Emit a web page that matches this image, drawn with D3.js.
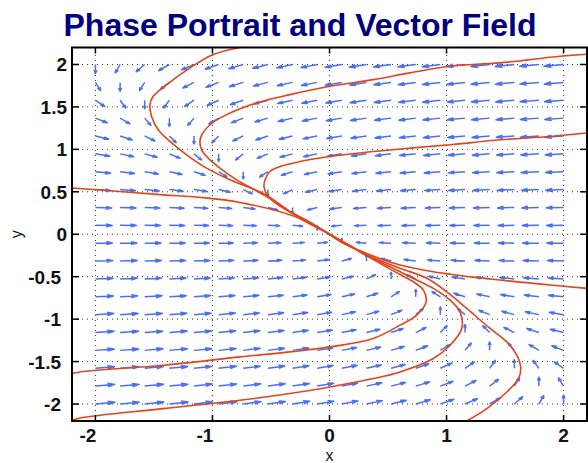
<!DOCTYPE html>
<html>
<head>
<meta charset="utf-8">
<script src="https://cdn.jsdelivr.net/npm/d3@7"></script>
<style>
  html, body { margin: 0; padding: 0; background: #fff; }
  svg { display: block; font-family: "Liberation Sans", Arial, Helvetica, sans-serif; }
</style>
</head>
<body>
<div id="chart"></div>
<script>
// ---------- data ----------
const TITLE = "Phase Portrait and Vector Field";
const xTicks = [-2, -1, 0, 1, 2];
const yTicks = [-2, -1.5, -1, -0.5, 0, 0.5, 1, 1.5, 2];

// quiver grid (20 x 20), rows go from y = -2 up to y = 2
const gridX = [-2,-1.789,-1.579,-1.368,-1.158,-0.947,-0.737,-0.526,-0.316,-0.105,0.105,0.316,0.526,0.737,0.947,1.158,1.368,1.579,1.789,2];
const gridY = [-2,-1.789,-1.579,-1.368,-1.158,-0.947,-0.737,-0.526,-0.316,-0.105,0.105,0.316,0.526,0.737,0.947,1.158,1.368,1.579,1.789,2];

// arrow components as drawn (axis units), one row per gridY value
const U = [
  [0.167,0.165,0.163,0.160,0.158,0.155,0.153,0.150,0.146,0.143,0.139,0.135,0.129,0.123,0.115,0.106,0.093,0.073,0.042,0],
  [0.165,0.163,0.161,0.158,0.156,0.153,0.150,0.147,0.143,0.140,0.135,0.130,0.124,0.118,0.108,0.095,0.076,0.045,0,-0.045],
  [0.163,0.161,0.159,0.156,0.153,0.151,0.147,0.144,0.140,0.136,0.131,0.126,0.119,0.110,0.099,0.080,0.049,0,-0.049,-0.080],
  [0.161,0.159,0.156,0.154,0.151,0.148,0.144,0.141,0.137,0.132,0.127,0.121,0.112,0.101,0.084,0.053,0,-0.053,-0.084,-0.101],
  [0.159,0.157,0.154,0.151,0.148,0.145,0.141,0.137,0.133,0.128,0.122,0.114,0.103,0.088,0.058,0,-0.058,-0.088,-0.103,-0.114],
  [0.157,0.154,0.151,0.148,0.145,0.142,0.138,0.134,0.129,0.123,0.116,0.106,0.092,0.064,0,-0.064,-0.092,-0.106,-0.116,-0.123],
  [0.154,0.152,0.149,0.145,0.142,0.138,0.134,0.130,0.124,0.117,0.109,0.096,0.071,0,-0.071,-0.096,-0.109,-0.117,-0.124,-0.130],
  [0.152,0.149,0.146,0.142,0.139,0.134,0.130,0.125,0.118,0.110,0.099,0.077,0,-0.077,-0.099,-0.110,-0.118,-0.125,-0.130,-0.134],
  [0.149,0.146,0.143,0.139,0.135,0.130,0.125,0.119,0.111,0.101,0.084,0,-0.084,-0.101,-0.111,-0.119,-0.125,-0.130,-0.135,-0.139],
  [0.146,0.143,0.139,0.135,0.131,0.125,0.120,0.112,0.102,0.087,0,-0.087,-0.102,-0.112,-0.120,-0.125,-0.131,-0.135,-0.139,-0.143],
  [0.143,0.139,0.135,0.131,0.125,0.120,0.112,0.102,0.087,0,-0.087,-0.102,-0.112,-0.120,-0.125,-0.131,-0.135,-0.139,-0.143,-0.146],
  [0.139,0.135,0.130,0.125,0.119,0.111,0.101,0.084,0,-0.084,-0.101,-0.111,-0.119,-0.125,-0.130,-0.135,-0.139,-0.143,-0.146,-0.149],
  [0.134,0.130,0.125,0.118,0.110,0.099,0.077,0,-0.077,-0.099,-0.110,-0.118,-0.125,-0.130,-0.134,-0.139,-0.142,-0.146,-0.149,-0.152],
  [0.130,0.124,0.117,0.109,0.096,0.071,0,-0.071,-0.096,-0.109,-0.117,-0.124,-0.130,-0.134,-0.138,-0.142,-0.145,-0.149,-0.152,-0.154],
  [0.123,0.116,0.106,0.092,0.064,0,-0.064,-0.092,-0.106,-0.116,-0.123,-0.129,-0.134,-0.138,-0.142,-0.145,-0.148,-0.151,-0.154,-0.157],
  [0.114,0.103,0.088,0.058,0,-0.058,-0.088,-0.103,-0.114,-0.122,-0.128,-0.133,-0.137,-0.141,-0.145,-0.148,-0.151,-0.154,-0.157,-0.159],
  [0.101,0.084,0.053,0,-0.053,-0.084,-0.101,-0.112,-0.121,-0.127,-0.132,-0.137,-0.141,-0.144,-0.148,-0.151,-0.154,-0.156,-0.159,-0.161],
  [0.080,0.049,0,-0.049,-0.080,-0.099,-0.110,-0.119,-0.126,-0.131,-0.136,-0.140,-0.144,-0.147,-0.151,-0.153,-0.156,-0.159,-0.161,-0.163],
  [0.045,0,-0.045,-0.076,-0.095,-0.108,-0.118,-0.124,-0.130,-0.135,-0.140,-0.143,-0.147,-0.150,-0.153,-0.156,-0.158,-0.161,-0.163,-0.165],
  [0,-0.042,-0.073,-0.093,-0.106,-0.115,-0.123,-0.129,-0.135,-0.139,-0.143,-0.146,-0.150,-0.153,-0.155,-0.158,-0.160,-0.163,-0.165,-0.167]
];
const V = [
  [0.021,0.022,0.023,0.024,0.025,0.026,0.028,0.030,0.032,0.034,0.037,0.040,0.044,0.049,0.055,0.063,0.073,0.086,0.100,0.106],
  [0.020,0.020,0.021,0.022,0.024,0.025,0.027,0.028,0.030,0.033,0.036,0.040,0.044,0.050,0.058,0.067,0.081,0.096,0.104,0.096],
  [0.018,0.019,0.020,0.021,0.022,0.024,0.025,0.027,0.029,0.032,0.035,0.039,0.045,0.052,0.062,0.075,0.092,0.101,0.092,0.075],
  [0.016,0.017,0.018,0.019,0.020,0.022,0.024,0.025,0.028,0.031,0.034,0.039,0.046,0.055,0.068,0.086,0.098,0.086,0.068,0.055],
  [0.015,0.015,0.016,0.017,0.019,0.020,0.022,0.024,0.026,0.029,0.034,0.039,0.047,0.060,0.080,0.094,0.080,0.060,0.047,0.039],
  [0.013,0.013,0.014,0.015,0.016,0.018,0.019,0.022,0.024,0.028,0.033,0.040,0.052,0.072,0.090,0.072,0.052,0.040,0.033,0.028],
  [0.010,0.011,0.012,0.013,0.014,0.015,0.017,0.019,0.022,0.026,0.032,0.042,0.062,0.086,0.062,0.042,0.032,0.026,0.022,0.019],
  [0.008,0.009,0.009,0.010,0.011,0.012,0.014,0.016,0.019,0.023,0.031,0.049,0.079,0.049,0.031,0.023,0.019,0.016,0.014,0.012],
  [0.005,0.006,0.006,0.007,0.007,0.008,0.009,0.011,0.014,0.019,0.031,0.071,0.031,0.019,0.014,0.011,0.009,0.008,0.007,0.007],
  [0.002,0.002,0.002,0.002,0.003,0.003,0.004,0.005,0.006,0.011,0.056,0.011,0.006,0.005,0.004,0.003,0.003,0.002,0.002,0.002],
  [-0.002,-0.002,-0.002,-0.003,-0.003,-0.004,-0.005,-0.006,-0.011,-0.056,-0.011,-0.006,-0.005,-0.004,-0.003,-0.003,-0.002,-0.002,-0.002,-0.002],
  [-0.007,-0.007,-0.008,-0.009,-0.011,-0.014,-0.019,-0.031,-0.071,-0.031,-0.019,-0.014,-0.011,-0.009,-0.008,-0.007,-0.007,-0.006,-0.006,-0.005],
  [-0.012,-0.014,-0.016,-0.019,-0.023,-0.031,-0.049,-0.079,-0.049,-0.031,-0.023,-0.019,-0.016,-0.014,-0.012,-0.011,-0.010,-0.009,-0.009,-0.008],
  [-0.019,-0.022,-0.026,-0.032,-0.042,-0.062,-0.086,-0.062,-0.042,-0.032,-0.026,-0.022,-0.019,-0.017,-0.015,-0.014,-0.013,-0.012,-0.011,-0.010],
  [-0.028,-0.033,-0.040,-0.052,-0.072,-0.090,-0.072,-0.052,-0.040,-0.033,-0.028,-0.024,-0.022,-0.019,-0.018,-0.016,-0.015,-0.014,-0.013,-0.013],
  [-0.039,-0.047,-0.060,-0.080,-0.094,-0.080,-0.060,-0.047,-0.039,-0.034,-0.029,-0.026,-0.024,-0.022,-0.020,-0.019,-0.017,-0.016,-0.015,-0.015],
  [-0.055,-0.068,-0.086,-0.098,-0.086,-0.068,-0.055,-0.046,-0.039,-0.034,-0.031,-0.028,-0.025,-0.024,-0.022,-0.020,-0.019,-0.018,-0.017,-0.016],
  [-0.075,-0.092,-0.101,-0.092,-0.075,-0.062,-0.052,-0.045,-0.039,-0.035,-0.032,-0.029,-0.027,-0.025,-0.024,-0.022,-0.021,-0.020,-0.019,-0.018],
  [-0.096,-0.104,-0.096,-0.081,-0.067,-0.058,-0.050,-0.044,-0.040,-0.036,-0.033,-0.030,-0.028,-0.027,-0.025,-0.024,-0.022,-0.021,-0.020,-0.020],
  [-0.106,-0.100,-0.086,-0.073,-0.063,-0.055,-0.049,-0.044,-0.040,-0.037,-0.034,-0.032,-0.030,-0.028,-0.026,-0.025,-0.024,-0.023,-0.022,-0.021]
];

// trajectories (red curves), [x, y] points
const trajTop = [[-0.765,2.2],[-0.993,2.117],[-1.192,1.96],[-1.391,1.763],[-1.506,1.625],[-1.534,1.527],[-1.52,1.388],[-1.463,1.231],[-1.363,1.093],[-1.221,0.936],[-1.05,0.779],[-0.85,0.641],[-0.551,0.47],[-0.338,0.268],[-0.167,0.14],[0,0]];
const trajUpper1 = [[2.2,2.12],[1.97,2.097],[1.457,2.019],[1.03,1.979],[0.688,1.901],[0.374,1.822],[0.004,1.743],[-0.338,1.645],[-0.622,1.547],[-0.879,1.409],[-1.021,1.29],[-1.092,1.172],[-1.107,1.093],[-1.092,0.995],[-1.036,0.897],[-0.936,0.779],[-0.793,0.641],[-0.551,0.455],[-0.338,0.265],[-0.167,0.14],[0,0]];
const trajUpper2 = [[2.2,1.192],[1.885,1.152],[1.457,1.113],[1.03,1.054],[0.688,1.015],[0.374,0.975],[0.004,0.916],[-0.252,0.857],[-0.423,0.798],[-0.509,0.739],[-0.548,0.65],[-0.56,0.562],[-0.523,0.444],[-0.438,0.346],[-0.338,0.262],[-0.167,0.135],[0,0]];
const trajLeft = [[-2.2,0.545],[-1.791,0.503],[-1.421,0.464],[-1.107,0.435],[-0.765,0.375],[-0.295,0.208],[-0.167,0.12],[0,0]];
const trajBottom = [[1.173,-2.2],[1.344,-2.054],[1.515,-1.858],[1.614,-1.7],[1.634,-1.582],[1.6,-1.425],[1.515,-1.268],[1.372,-1.11],[1.173,-0.874],[1.002,-0.678],[0.831,-0.519],[0.603,-0.401],[0.318,-0.245],[0.15,-0.115],[0,0]];
const trajLower1 = [[-2.2,-2.193],[-2.132,-2.165],[-1.421,-2.054],[-0.765,-1.956],[-0.338,-1.877],[0.004,-1.799],[0.374,-1.7],[0.603,-1.622],[0.887,-1.464],[1.03,-1.307],[1.13,-1.11],[1.115,-0.914],[1.03,-0.776],[0.887,-0.638],[0.745,-0.54],[0.603,-0.442],[0.318,-0.25],[0.15,-0.12],[0,0]];
const trajLower2 = [[-2.2,-1.641],[-2.132,-1.622],[-1.421,-1.543],[-0.765,-1.445],[-0.338,-1.386],[0.004,-1.327],[0.374,-1.228],[0.603,-1.071],[0.745,-0.953],[0.825,-0.796],[0.802,-0.658],[0.716,-0.56],[0.603,-0.475],[0.318,-0.255],[0.15,-0.115],[0,0]];
const trajRight = [[2.2,-0.638],[1.742,-0.579],[1.315,-0.519],[0.887,-0.441],[0.603,-0.362],[0.4,-0.27],[0.118,-0.106],[0,0]];
const trajectories = [trajTop, trajUpper1, trajUpper2, trajLeft, trajBottom, trajLower1, trajLower2, trajRight];

// ---------- layout ----------
const W = 588, H = 463;
const ARROW = "#4a70f0", CURVE = "#e2441c";

const svg = d3.select("#chart").append("svg").attr("width", W).attr("height", H);

const x = d3.scaleLinear().domain([-2.2, 2.2]).range([72, 587]);
const y = d3.scaleLinear().domain([-2.2, 2.2]).range([421, 47.5]);
const [x0, x1] = x.range(), [y0, y1] = y.range();

svg.append("defs").append("clipPath").attr("id", "plot-clip")
  .append("rect").attr("x", x0).attr("y", y1).attr("width", x1 - x0).attr("height", y0 - y1);

// dotted grid
const gGrid = svg.append("g").attr("stroke", "#333").attr("stroke-width", 1).attr("stroke-dasharray", "1,4");
gGrid.selectAll("line.gx").data(xTicks).enter().append("line")
  .attr("x1", d => x(d)).attr("x2", d => x(d)).attr("y1", y0).attr("y2", y1);
gGrid.selectAll("line.gy").data(yTicks).enter().append("line")
  .attr("y1", d => y(d)).attr("y2", d => y(d)).attr("x1", x0).attr("x2", x1);

// quiver arrows (matlab style open heads, built in data space)
const arrows = [];
gridY.forEach((gy, j) => gridX.forEach((gx, i) => arrows.push({ x: gx, y: gy, u: U[j][i], v: V[j][i] })));
const alpha = 0.36, beta = 0.33;
function arrowPath(d) {
  const hx = d.x + d.u, hy = d.y + d.v;
  const b1x = hx - alpha * (d.u + beta * d.v), b1y = hy - alpha * (d.v - beta * d.u);
  const b2x = hx - alpha * (d.u - beta * d.v), b2y = hy - alpha * (d.v + beta * d.u);
  return `M${x(d.x)},${y(d.y)}L${x(hx)},${y(hy)}M${x(b1x)},${y(b1y)}L${x(hx)},${y(hy)}L${x(b2x)},${y(b2y)}`;
}
svg.append("g").attr("class", "quiver")
  .selectAll("path").data(arrows).enter().append("path")
  .attr("d", arrowPath)
  .attr("fill", "none")
  .attr("stroke", ARROW)
  .attr("stroke-width", 1.5)
  .attr("stroke-linejoin", "round");

// trajectories
const line = d3.line().x(d => x(d[0])).y(d => y(d[1])).curve(d3.curveCatmullRom.alpha(0.5));
svg.append("g").attr("clip-path", "url(#plot-clip)")
  .selectAll("path").data(trajectories).enter().append("path")
  .attr("d", line)
  .attr("fill", "none")
  .attr("stroke", CURVE)
  .attr("stroke-width", 1.6);

// box + ticks
svg.append("rect").attr("x", x0).attr("y", y1).attr("width", x1 - x0).attr("height", y0 - y1)
  .attr("fill", "none").attr("stroke", "#000").attr("stroke-width", 2);

const gTicks = svg.append("g").attr("stroke", "#000").attr("stroke-width", 1.5);
xTicks.forEach(t => {
  gTicks.append("line").attr("x1", x(t)).attr("x2", x(t)).attr("y1", y0).attr("y2", y0 - 6);
  gTicks.append("line").attr("x1", x(t)).attr("x2", x(t)).attr("y1", y1).attr("y2", y1 + 6);
});
yTicks.forEach(t => {
  gTicks.append("line").attr("y1", y(t)).attr("y2", y(t)).attr("x1", x0).attr("x2", x0 + 7);
  gTicks.append("line").attr("y1", y(t)).attr("y2", y(t)).attr("x1", x1).attr("x2", x1 - 7);
});

// tick labels
svg.append("g").selectAll("text").data(xTicks).enter().append("text")
  .attr("x", d => x(d) + (d < 0 ? 1 : 0))
  .attr("y", 442)
  .attr("text-anchor", d => (d < 0 ? "end" : "middle"))
  .attr("font-size", 19).attr("font-weight", "bold").attr("fill", "#111")
  .text(d => String(d));
svg.append("g").selectAll("text").data(yTicks).enter().append("text")
  .attr("x", d => x0 - (d < 0 ? 11 : 5))
  .attr("y", d => y(d) + 7)
  .attr("text-anchor", "end")
  .attr("font-size", 19).attr("font-weight", "bold").attr("fill", "#111")
  .text(d => String(d));

// axis labels + title
svg.append("text").attr("x", x(0)).attr("y", 461).attr("text-anchor", "middle")
  .attr("font-size", 16).attr("fill", "#111").text("x");
svg.append("text").attr("transform", `translate(22,${y(0)}) rotate(-90)`).attr("text-anchor", "middle")
  .attr("font-size", 16).attr("fill", "#111").text("y");
svg.append("text").attr("x", 300).attr("y", 36).attr("text-anchor", "middle")
  .attr("font-size", 32).attr("font-weight", "bold").attr("fill", "#000080")
  .text(TITLE);
</script>
</body>
</html>
